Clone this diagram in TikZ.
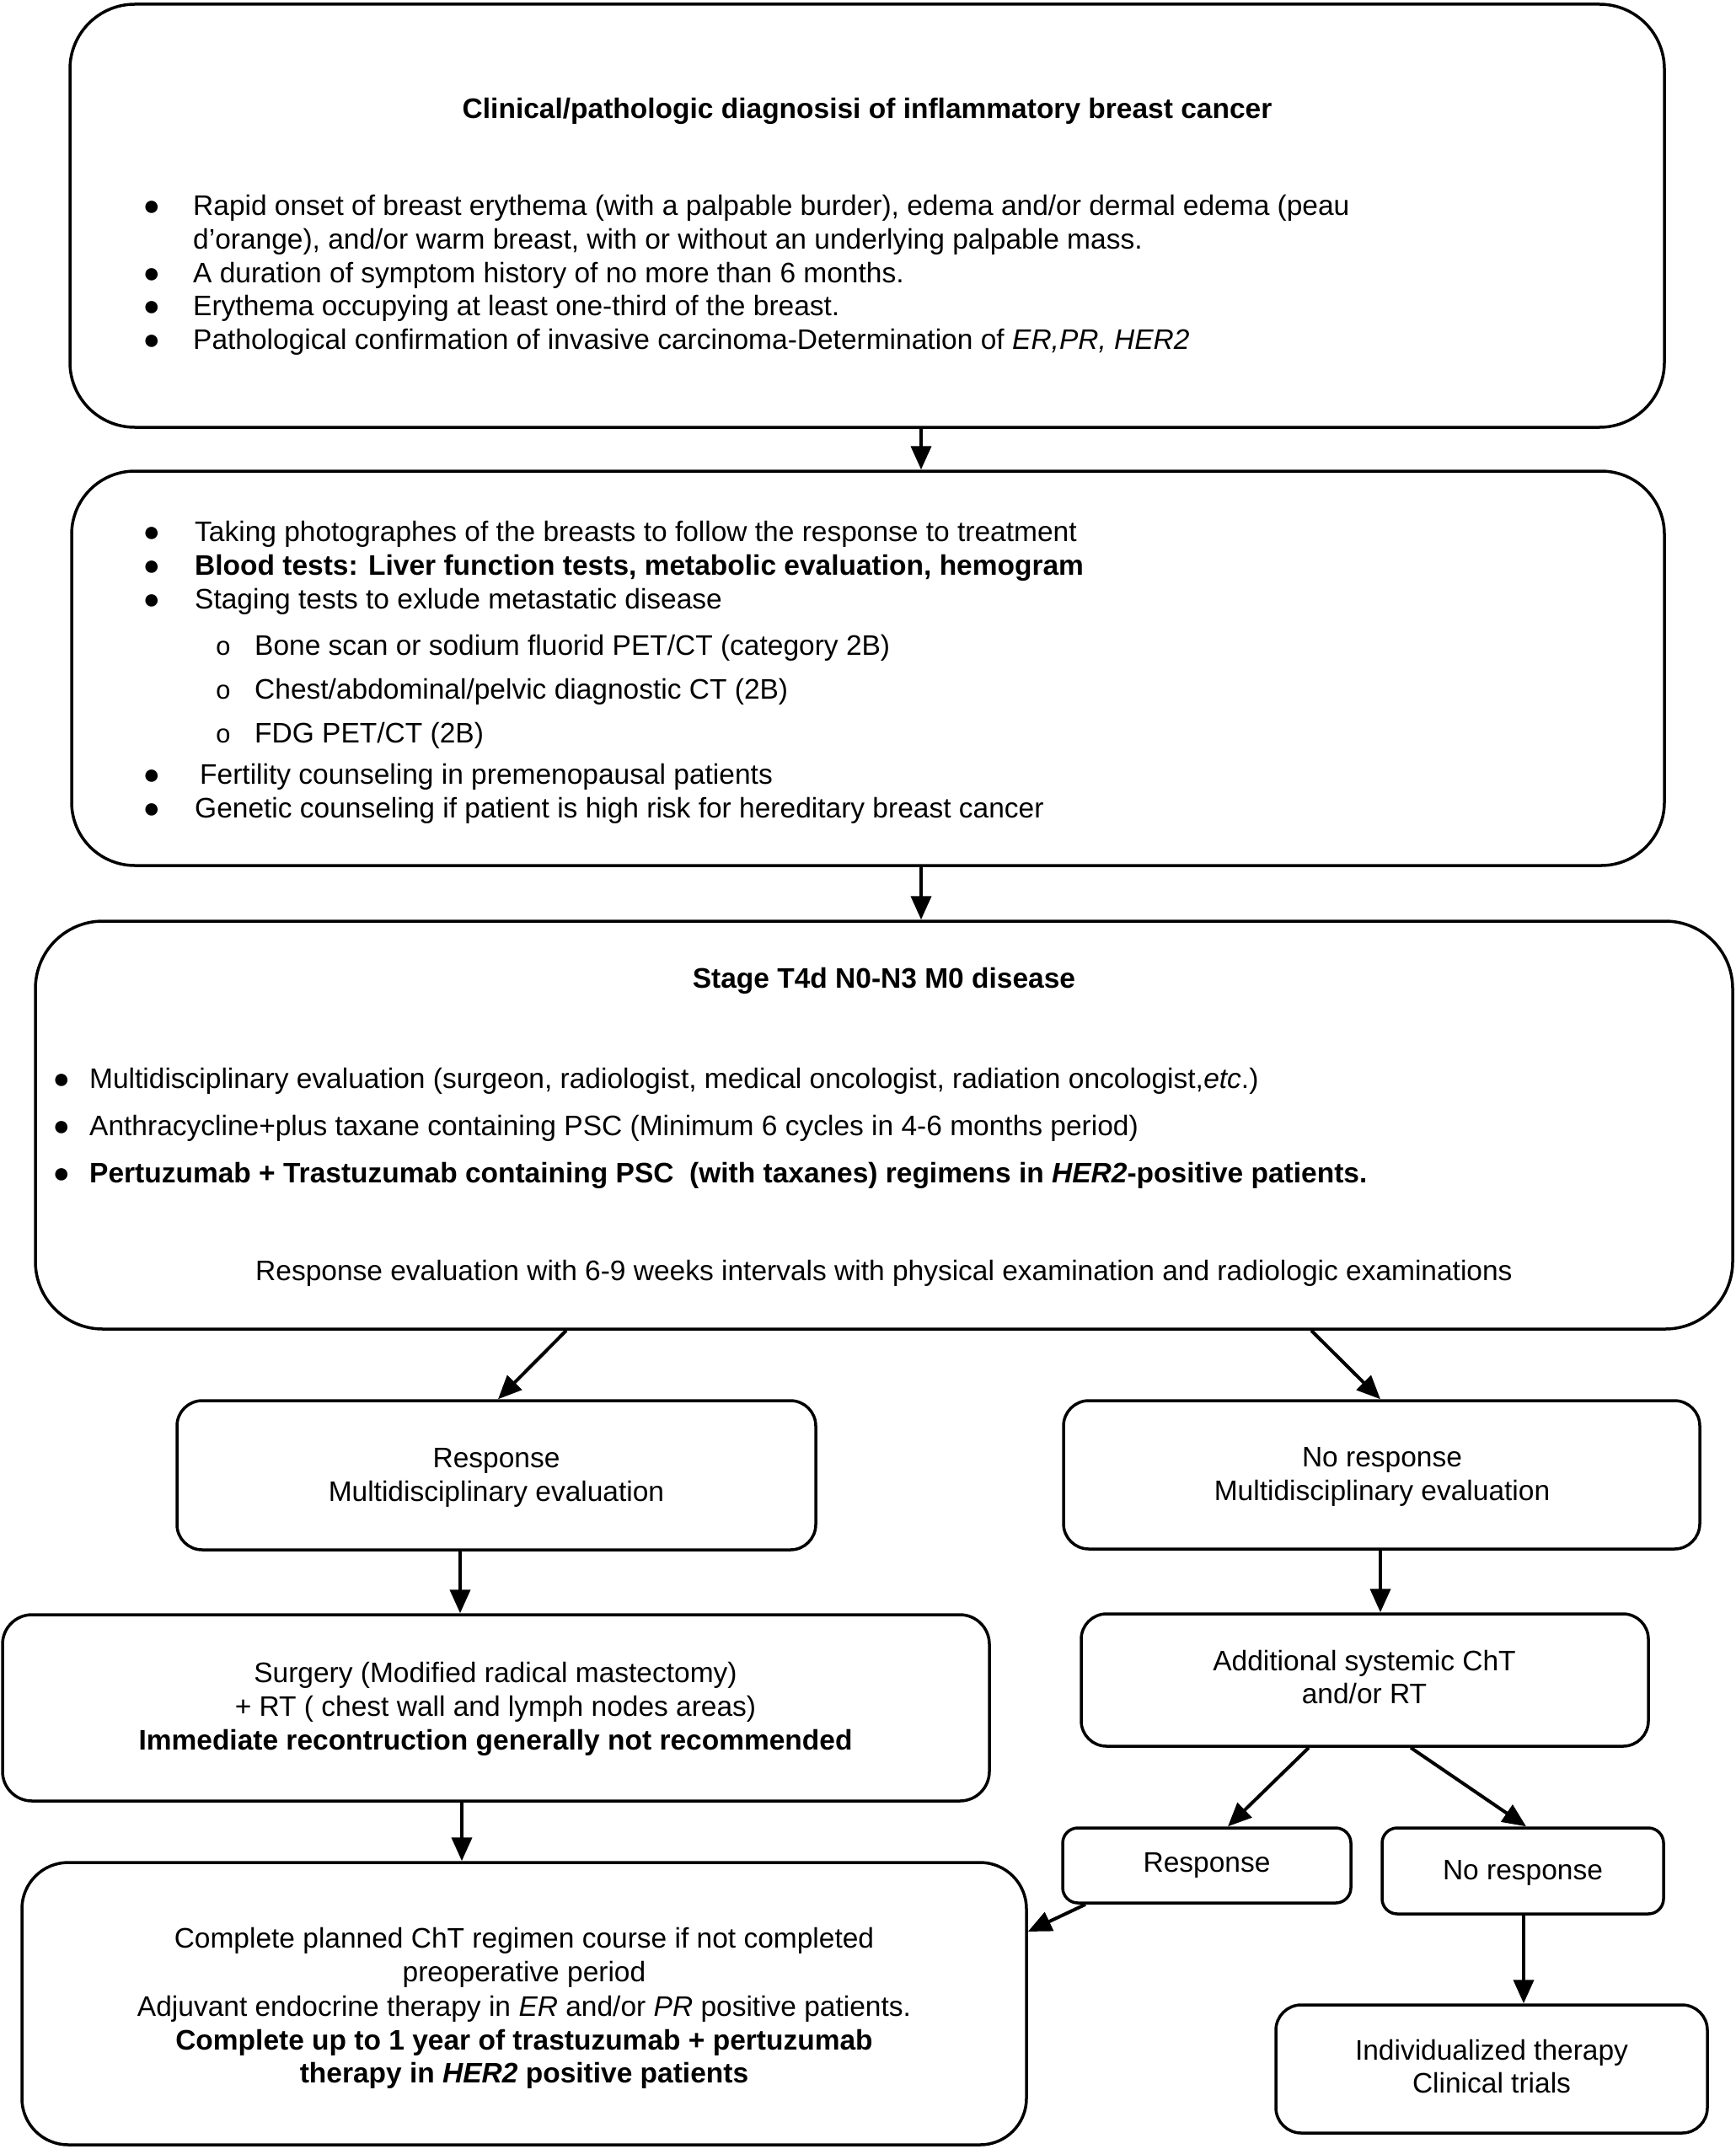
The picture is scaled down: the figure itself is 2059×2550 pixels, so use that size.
\documentclass[tikz,border=0pt]{standalone}
\usepackage{fontspec}
\setmainfont{Liberation Sans}
\newfontfamily\obul{Liberation Mono}
\usetikzlibrary{arrows.meta}
\newcommand\fsz{\fontsize{33.5pt}{40pt}\selectfont}
\newcommand\bdot{\smash{●}}
\begin{document}
\begin{tikzpicture}[x=1pt,y=-1pt,
  box/.style={draw, line width=3.5pt, rectangle, inner sep=0pt},
  arr/.style={line width=4pt, -{Triangle[length=28pt,width=24pt]}},
  tl/.style={inner sep=0pt, anchor=base west, font=\fsz},
  tc/.style={inner sep=0pt, anchor=base, font=\fsz},
  bul/.style={inner sep=0pt, anchor=base, yshift=-8pt, font=\fontsize{34pt}{36pt}\selectfont},
  sb/.style={inner sep=0pt, anchor=base, font=\obul\fontsize{31pt}{40pt}\selectfont},
]
\useasboundingbox (0,0) rectangle (2059,2550);
\fill[white] (0,0) rectangle (2059,2550);

% boxes
\node[box, rounded corners=77pt, minimum width=1892pt, minimum height=502pt] (b1) at (1029,256) {};
\node[box, rounded corners=75pt, minimum width=1890pt, minimum height=468pt] (b2) at (1030,793) {};
\node[box, rounded corners=80pt, minimum width=2014pt, minimum height=484pt] (b3) at (1049,1335) {};
\node[box, rounded corners=30pt, minimum width=758pt, minimum height=177pt] (b4) at (589,1750.5) {};
\node[box, rounded corners=30pt, minimum width=755pt, minimum height=176pt] (b5) at (1639.5,1750) {};
\node[box, rounded corners=35pt, minimum width=1171pt, minimum height=221pt] (b6) at (588.5,2026.5) {};
\node[box, rounded corners=30pt, minimum width=673pt, minimum height=157pt] (b7) at (1619.5,1993.5) {};
\node[box, rounded corners=18pt, minimum width=342pt, minimum height=89pt] (b8) at (1432,2213.5) {};
\node[box, rounded corners=18pt, minimum width=334pt, minimum height=102pt] (b9) at (1807,2220) {};
\node[box, rounded corners=55pt, minimum width=1192pt, minimum height=335pt] (b10) at (622,2377.5) {};
\node[box, rounded corners=30pt, minimum width=512pt, minimum height=152pt] (b11) at (1770,2455) {};

% arrows
\draw[arr] ([xshift=64pt]b1.south) -- ([xshift=63pt]b2.north);
\draw[arr] ([xshift=63pt]b2.south) -- ([xshift=44pt]b3.north);
\draw[arr] ([xshift=-377pt]b3.south) -- ([xshift=2pt]b4.north);
\draw[arr] ([xshift=507pt]b3.south) -- ([xshift=-1.5pt]b5.north);
\draw[arr] ([xshift=-43pt]b4.south) -- ([xshift=-42.5pt]b6.north);
\draw[arr] ([xshift=-1.5pt]b5.south) -- ([xshift=18.5pt]b7.north);
\draw[arr] ([xshift=-66.5pt]b7.south) -- ([xshift=25pt]b8.north);
\draw[arr] ([xshift=54.5pt]b7.south) -- ([xshift=4pt]b9.north);
\draw[arr] ([xshift=-40.5pt]b6.south) -- ([xshift=-74pt]b10.north);
\draw[arr] ([xshift=-144pt]b8.south) -- ([yshift=85.5pt]b10.east);
\draw[arr] ([xshift=1pt]b9.south) -- ([xshift=38pt]b11.north);

% box 1 text
\node[tc] (t1h) at (1029,141) {\bfseries Clinical/pathologic diagnosisi of inflammatory breast cancer};
\node[bul] (p1a) at (180,247) {\bdot};
\node[tl] (t1a) at (229,255) {Rapid onset of breast erythema (with a palpable burder), edema and/or dermal edema (peau};
\node[tl] (t1b) at (229,295) {d’orange), and/or warm breast, with or without an underlying palpable mass.};
\node[bul] (p1c) at (180,327) {\bdot};
\node[tl] (t1c) at (229,335) {A duration of symptom history of no more than 6 months.};
\node[bul] (p1d) at (180,366) {\bdot};
\node[tl] (t1d) at (229,374) {Erythema occupying at least one-third of the breast.};
\node[bul] (p1e) at (180,406) {\bdot};
\node[tl] (t1e) at (229,414) {Pathological confirmation of invasive carcinoma-Determination of \textit{ER,PR, HER2}};

% box 2 text
\node[bul] (p2a) at (180,634) {\bdot};
\node[tl] (t2a) at (231,642) {Taking photographes of the breasts to follow the response to treatment};
\node[bul] (p2b) at (180,674) {\bdot};
\node[tl] (t2b) at (231,682) {\bfseries Blood tests: Liver function tests, metabolic evaluation, hemogram};
\node[bul] (p2c) at (180,714) {\bdot};
\node[tl] (t2c) at (231,722) {Staging tests to exlude metastatic disease};
\node[sb] (p2d) at (265,777) {o};
\node[tl] (t2d) at (302,777) {Bone scan or sodium fluorid PET/CT (category 2B)};
\node[sb] (p2e) at (265,829) {o};
\node[tl] (t2e) at (302,829) {Chest/abdominal/pelvic diagnostic CT (2B)};
\node[sb] (p2f) at (265,881) {o};
\node[tl] (t2f) at (302,881) {FDG PET/CT (2B)};
\node[bul] (p2g) at (180,922) {\bdot};
\node[tl] (t2g) at (237,930) {Fertility counseling in premenopausal patients};
\node[bul] (p2h) at (180,962) {\bdot};
\node[tl] (t2h) at (231,970) {Genetic counseling if patient is high risk for hereditary breast cancer};

% box 3 text
\node[tc] (t3h) at (1049,1172) {\bfseries Stage T4d N0-N3 M0 disease};
\node[bul] (p3a) at (73,1283) {\bdot};
\node[tl] (t3a) at (106,1291) {Multidisciplinary evaluation (surgeon, radiologist, medical oncologist, radiation oncologist,\textit{etc}.)};
\node[bul] (p3b) at (73,1339) {\bdot};
\node[tl] (t3b) at (106,1347) {Anthracycline+plus taxane containing PSC (Minimum 6 cycles in 4-6 months period)};
\node[bul] (p3c) at (73,1395) {\bdot};
\node[tl] (t3c) at (106,1403) {\bfseries Pertuzumab + Trastuzumab containing PSC\ \ (with taxanes) regimens in \textit{HER2}-positive patients.};
\node[tc] (t3d) at (1049,1519) {Response evaluation with 6-9 weeks intervals with physical examination and radiologic examinations};

% box 4, 5
\node[tc] (t4a) at (589,1741) {Response};
\node[tc] (t4b) at (589,1781) {Multidisciplinary evaluation};
\node[tc] (t5a) at (1640,1740) {No response};
\node[tc] (t5b) at (1640,1780) {Multidisciplinary evaluation};

% box 6
\node[tc] (t6a) at (588,1996) {Surgery (Modified radical mastectomy)};
\node[tc] (t6b) at (588,2036) {+ RT ( chest wall and lymph nodes areas)};
\node[tc] (t6c) at (588,2076) {\bfseries Immediate recontruction generally not recommended};

% box 7, 8, 9
\node[tc] (t7a) at (1619,1982) {Additional systemic ChT};
\node[tc] (t7b) at (1619,2021) {and/or RT};
\node[tc] (t8) at (1432,2221) {Response};
\node[tc] (t9) at (1807,2230) {No response};

% box 10
\node[tc] (t10a) at (622,2311) {Complete planned ChT regimen course if not completed};
\node[tc] (t10b) at (622,2351) {preoperative period};
\node[tc] (t10c) at (622,2392) {Adjuvant endocrine therapy in \textit{ER} and/or \textit{PR} positive patients.};
\node[tc] (t10d) at (622,2432) {\bfseries Complete up to 1 year of trastuzumab + pertuzumab};
\node[tc] (t10e) at (622,2471) {\bfseries therapy in \textit{HER2} positive patients};

% box 11
\node[tc] (t11a) at (1770,2444) {Individualized therapy};
\node[tc] (t11b) at (1770,2483) {Clinical trials};
\end{tikzpicture}
\end{document}
